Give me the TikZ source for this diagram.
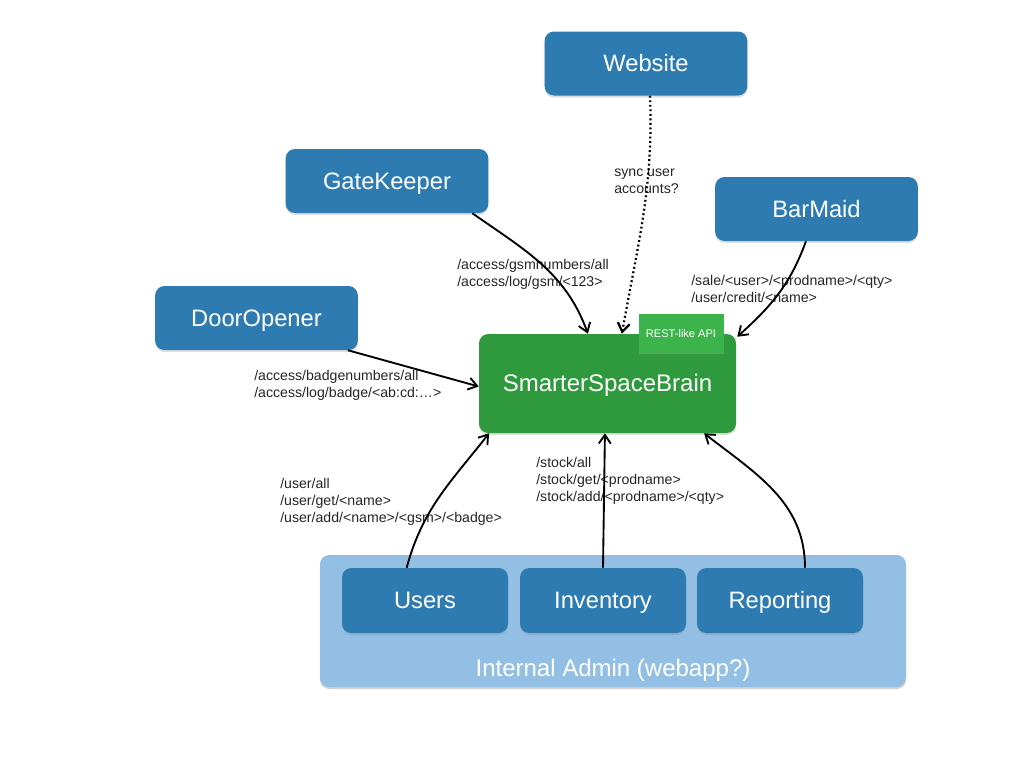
\documentclass[tikz,border=0pt]{standalone}
\usepackage{fontspec}
\setmainfont{Liberation Sans}
\usetikzlibrary{calc,arrows.meta,shadows}
\definecolor{boxblue}{HTML}{2E7BB1}
\definecolor{brain}{HTML}{2F9A3D}
\definecolor{restg}{HTML}{3CB44B}
\definecolor{admin}{HTML}{92BFE3}
\tikzset{
  box/.style={rounded corners=7pt, text=white, inner sep=0pt,
    font=\fontsize{17.8}{20}\selectfont, text height=14pt, text depth=1.5pt,
    drop shadow={opacity=0.25, shadow xshift=0pt, shadow yshift=-1.5pt}},
  bluebox/.style={box, fill=boxblue},
  topbox/.style={bluebox, minimum width=152pt, minimum height=48pt},
  admbox/.style={bluebox, minimum width=124.5pt, minimum height=48.75pt},
  lbl/.style={font=\fontsize{10.6}{12.8}\selectfont, align=left, anchor=west, inner sep=0pt, text=black!85},
  arr/.style={-{Straight Barb[length=6.5pt,width=9pt]}, line width=1.4pt},
}
\begin{document}
\begin{tikzpicture}[x=0.75pt,y=0.75pt]
\useasboundingbox[fill=white] (0,0) rectangle (1024,-768);
% container
\node[box, fill=admin, minimum width=439.5pt, minimum height=99pt,
  drop shadow={opacity=0.15, shadow xshift=0pt, shadow yshift=-1.5pt}] (adm) at (613,-621) {};
\node[text=white, font=\fontsize{18}{20}\selectfont, inner sep=0pt] (admlbl) at (613,-670.5) {Internal Admin (webapp?)};
% nodes
\node[topbox] (web) at (646,-63.5) {Website};
\node[topbox] (gk) at (387,-181) {GateKeeper};
\node[topbox] (bm) at (816.5,-209) {BarMaid};
\node[topbox] (door) at (256.5,-318) {DoorOpener};
\node[box, fill=brain, minimum width=192.75pt, minimum height=74.25pt,
  font=\fontsize{18}{20}\selectfont] (brain) at (607.5,-383.5) {SmarterSpaceBrain};
\node[fill=restg, text=white, minimum width=63.75pt, minimum height=30pt, inner sep=0pt,
  font=\fontsize{8.3}{9}\selectfont,
  drop shadow={opacity=0.2, shadow xshift=0pt, shadow yshift=-1pt}] (rest) at (681,-333.5) {REST-like API};
\node[admbox] (users) at (425,-600.5) {Users};
\node[admbox] (inv) at (603,-600.5) {Inventory};
\node[admbox] (rep) at (780,-600.5) {Reporting};
% labels
\node[lbl] (l1) at (457,-274.5) {/access/gsmnumbers/all\\/access/log/gsm/<123>};
\node[lbl] (l2) at (614,-181.5) {sync user\\accounts?};
\node[lbl] (l3) at (691,-289) {/sale/<user>/<prodname>/<qty>\\/user/credit/<name>};
\node[lbl] (l4) at (254,-385.5) {/access/badgenumbers/all\\/access/log/badge/<ab:cd:\dots>};
\node[lbl] (l5) at (280,-501.5) {/user/all\\/user/get/<name>\\/user/add/<name>/<gsm>/<badge>};
\node[lbl] (l6) at (536,-481) {/stock/all\\/stock/get/<prodname>\\/stock/add/<prodname>/<qty>};
% connectors
\draw[arr] ($(gk.south west)!0.92!(gk.south east)$) to[out=-35,in=110] ($(brain.north west)!0.424!(brain.north east)$);
\draw[arr, dotted, line width=1.7pt] ($(web.south west)!0.52!(web.south east)$) to[out=-88,in=80] ($(brain.north west)!0.556!(brain.north east)$);
\draw[arr] ($(bm.south west)!0.448!(bm.south east)$) to[out=-110,in=42] ($(brain.north east)+(1,-3)$);
\draw[arr] ($(door.south west)!0.95!(door.south east)$) -- ($(brain.west)+(0,-3)$);
\draw[arr] ($(users.north west)!0.39!(users.north east)$) to[out=75,in=232] ($(brain.south west)!0.04!(brain.south east)$);
\draw[arr] (inv.north) -- ($(brain.south west)!0.49!(brain.south east)$);
\draw[arr] ($(rep.north west)!0.65!(rep.north east)$) to[out=90,in=-38] ($(brain.south west)!0.875!(brain.south east)$);
\end{tikzpicture}
\end{document}
